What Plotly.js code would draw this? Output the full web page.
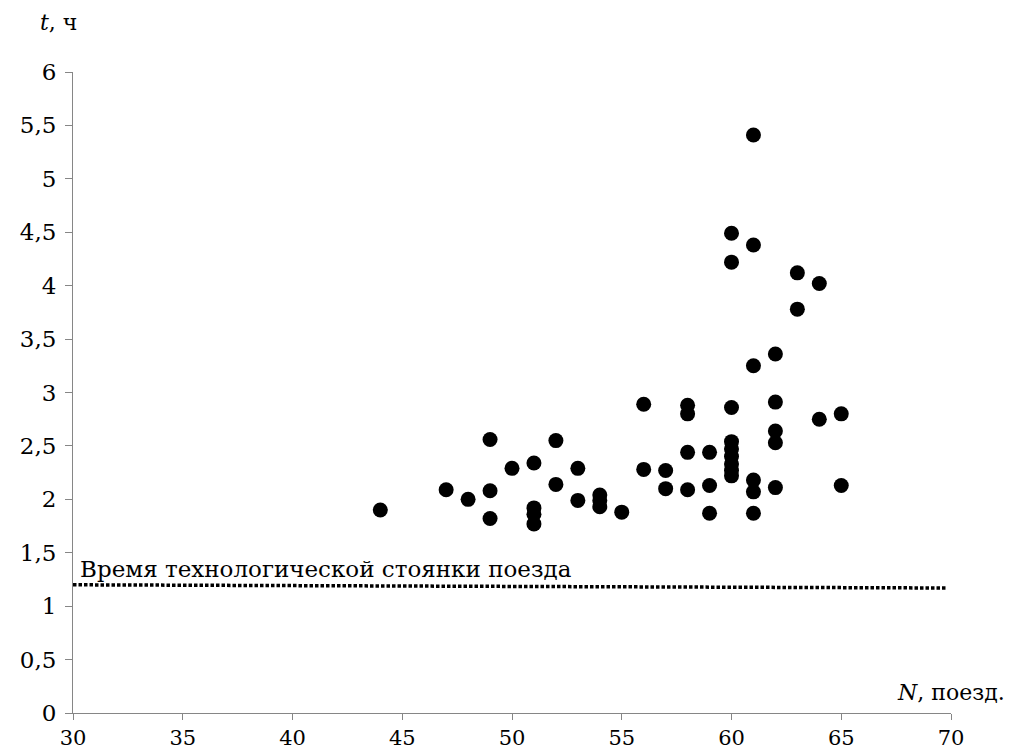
<!DOCTYPE html>
<html>
<head>
<meta charset="utf-8">
<script src="https://cdn.plot.ly/plotly-3.0.1.min.js"></script>
<style>html,body{margin:0;padding:0;background:#fff;}#chart{width:1010px;height:751px;}</style>
</head>
<body>
<div id="chart"></div>
<script>
// Number of trains N and standing time t (hours)
const trainsN = [44, 47, 48, 49, 49, 49, 50, 51, 51, 51, 51, 52, 52, 53, 53, 54, 54, 54, 55, 56, 56, 57, 57,
  58, 58, 58, 58, 59, 59, 59, 60, 60, 60, 60, 60, 60, 60, 60, 60, 61, 61, 61, 61, 61, 61,
  62, 62, 62, 62, 62, 63, 63, 64, 64, 65, 65];
const timeT = [1.90, 2.09, 2.00, 2.56, 2.08, 1.82, 2.29, 2.34, 1.92, 1.86, 1.77, 2.55, 2.14, 2.29, 1.99, 2.04, 1.99, 1.93, 1.88, 2.89, 2.28, 2.27, 2.10,
  2.88, 2.80, 2.44, 2.09, 2.44, 2.13, 1.87, 4.49, 4.22, 2.86, 2.54, 2.47, 2.40, 2.33, 2.27, 2.22, 5.41, 4.38, 3.25, 2.18, 2.07, 1.87,
  3.36, 2.91, 2.64, 2.53, 2.11, 4.12, 3.78, 4.02, 2.75, 2.80, 2.13];
// Technological standing time line
const normN = [30, 69.8];
const normT = [1.2, 1.17];
const normLabel = "Время технологической стоянки поезда";
const xTicks = [30, 35, 40, 45, 50, 55, 60, 65, 70];
const yTicks = [0, 0.5, 1, 1.5, 2, 2.5, 3, 3.5, 4, 4.5, 5, 5.5, 6];

const serif = "DejaVu Serif";
const traces = [
  {x: trainsN, y: timeT, type: 'scatter', mode: 'markers',
   marker: {color: '#000', size: 15}, hoverinfo: 'x+y'},
  {x: normN, y: normT, type: 'scatter', mode: 'lines',
   line: {color: '#000', width: 3.5, dash: '3.5px,2px'}, hoverinfo: 'skip'}
];
const layout = {
  width: 1010, height: 751,
  margin: {l: 73, r: 59, t: 72, b: 38},
  paper_bgcolor: '#fff', plot_bgcolor: '#fff',
  separators: ', ',
  showlegend: false,
  font: {family: serif, size: 22, color: '#000'},
  xaxis: {range: [30, 70], tickvals: xTicks,
    showgrid: false, zeroline: false, showline: true, linecolor: '#868686', linewidth: 1,
    ticks: 'outside', ticklen: 6, tickcolor: '#868686', tickwidth: 1,
    tickfont: {family: serif, size: 21, color: '#000'}},
  yaxis: {range: [0, 6], tickvals: yTicks,
    showgrid: false, zeroline: false, showline: true, linecolor: '#868686', linewidth: 1,
    ticks: 'outside', ticklen: 7, tickcolor: '#868686', tickwidth: 1, ticklabelstandoff: 4,
    tickfont: {family: serif, size: 23, color: '#000'}},
  annotations: [
    {text: normLabel, xref: 'paper', yref: 'y', x: 0.006, y: 1.2, xanchor: 'left', yanchor: 'bottom',
     yshift: 1, showarrow: false, font: {family: serif, size: 23, color: '#000'}},
    {text: '<i>t</i>, ч', xref: 'paper', yref: 'paper', x: -0.04, y: 1.0, xanchor: 'left', yanchor: 'bottom',
     yshift: 35, showarrow: false, font: {family: serif, size: 22, color: '#000'}},
    {text: '<i>N</i>, поезд.', xref: 'paper', yref: 'paper', x: 1.0, y: 0, xanchor: 'left', yanchor: 'bottom',
     xshift: -56, yshift: 6, showarrow: false, font: {family: serif, size: 22, color: '#000'}}
  ]
};
Plotly.newPlot('chart', traces, layout, {displayModeBar: false, staticPlot: true});
</script>
</body>
</html>
